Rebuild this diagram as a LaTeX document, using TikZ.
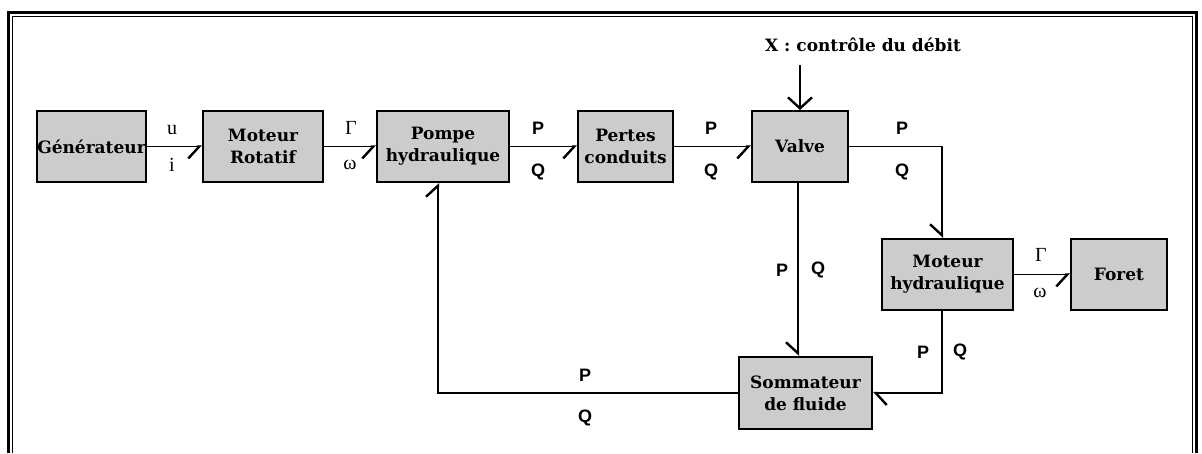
\documentclass[tikz,border=0pt]{standalone}
\usepackage{fontspec}
\setmainfont{DejaVu Serif}
\newfontfamily\lsans{Liberation Sans}
\newfontfamily\lserif{Liberation Serif}
\usetikzlibrary{arrows.meta}
\begin{document}
\begin{tikzpicture}[x=1pt,y=-1pt,
 blk/.style={draw, line width=2pt, fill=black!20, inner sep=0pt,
   minimum height=71pt, font=\bfseries\fontsize{17}{22}\selectfont, align=center},
 lbl/.style={font=\lsans\bfseries\fontsize{18}{20}\selectfont, inner sep=0pt},
 sym/.style={font=\lserif\fontsize{20}{20}\selectfont, inner sep=0pt},
 wire/.style={line width=1.8pt},
 hR/.style={wire, -{Straight Barb[right,length=11pt,width=24pt,line width=2.4pt]}},
 hL/.style={wire, -{Straight Barb[left,length=11pt,width=24pt,line width=2.4pt]}},
 full/.style={wire, -{Straight Barb[length=11pt,width=24pt,line width=2.4pt]}},
]
\useasboundingbox (0,0) rectangle (1202,453);
% frame
\draw[line width=3pt] (8,453) -- (8,12) -- (1196,12) -- (1196,453);
\draw[line width=1pt] (12,453) -- (12,16.5) -- (1192,16.5) -- (1192,453);

% blocks
\node[blk, minimum width=109pt] (gen) at (91.5,146.5) {Générateur};
\node[blk, minimum width=120pt] (rot) at (263,146.5) {Moteur\\Rotatif};
\node[blk, minimum width=132pt] (pom) at (443,146.5) {Pompe\\hydraulique};
\node[blk, minimum width=95pt] (per) at (625.5,146.5) {Pertes\\conduits};
\node[blk, minimum width=96pt] (val) at (800,146.5) {Valve};
\node[blk, minimum width=131pt] (mh) at (947.5,274.5) {Moteur\\hydraulique};
\node[blk, minimum width=96pt] (for) at (1119,274.5) {Foret};
\node[blk, minimum width=133pt, minimum height=72pt] (som) at (805.5,393) {Sommateur\\de fluide};

% helper coordinates
\coordinate (c1) at (942,0);
\coordinate (c2) at (438,0);
\coordinate (c3) at (798,0);
\node[font=\bfseries\fontsize{17}{20}\selectfont, inner sep=0pt] (xt) at (863,45) {X : contrôle du débit};
\coordinate (xs) at (800,65);

% connectors
\draw[hR] (gen) -- (rot);
\draw[hR] (rot) -- (pom);
\draw[hR] (pom) -- (per);
\draw[hR] (per) -- (val);
\draw[full] (xs) -- (val.north);
\draw[hR] (val.east) -| (c1 |- mh.north);
\draw[hR] (mh) -- (for);
\draw[hR] (c3 |- val.south) -- (c3 |- som.north);
\draw[hL] (c1 |- mh.south) |- (som.east);
\draw[hL] (som.west) -| (c2 |- pom.south);

% labels
\node[sym] (lu) at (172,130) {u};
\node[sym] (li) at (172,165) {i};
\node[sym] (lg1) at (351,128) {Γ};
\node[sym] (lw1) at (350,165) {ω};
\node[lbl] (p1) at (538,128) {P};
\node[lbl] (q1) at (538,172) {Q};
\node[lbl] (p2) at (711,128) {P};
\node[lbl] (q2) at (711,172) {Q};
\node[lbl] (p3) at (902,128) {P};
\node[lbl] (q3) at (902,172) {Q};
\node[lbl] (p4) at (782,270) {P};
\node[lbl] (q4) at (818,270) {Q};
\node[sym] (lg2) at (1041,255) {Γ};
\node[sym] (lw2) at (1040,293) {ω};
\node[lbl] (p5) at (923,352) {P};
\node[lbl] (q5) at (960,352) {Q};
\node[lbl] (p6) at (585,375) {P};
\node[lbl] (q6) at (585,418) {Q};
\end{tikzpicture}
\end{document}
